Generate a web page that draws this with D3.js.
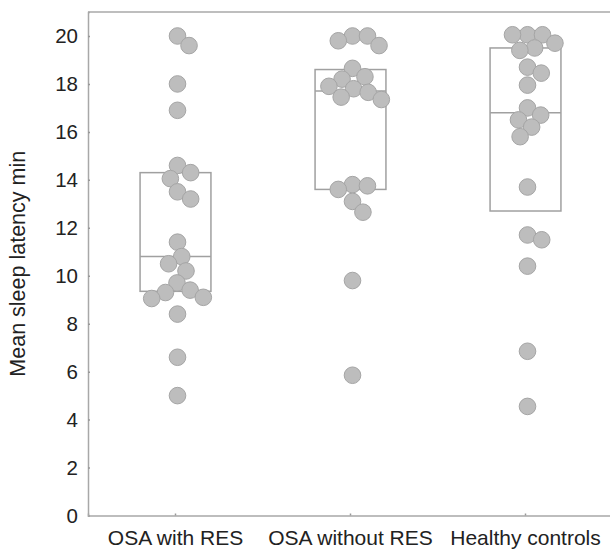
<!DOCTYPE html>
<html lang="en">
<head>
<meta charset="utf-8">
<title>Mean sleep latency</title>
<script src="https://d3js.org/d3.v7.min.js"></script>
<style>
  body { margin: 0; background: #fff; }
  text { font-family: "Liberation Sans", Arial, sans-serif; fill: #222; }
</style>
</head>
<body>
<script>
// data
var groups = ["OSA with RES", "OSA without RES", "Healthy controls"];

var osaWithRes = [20.0, 19.6, 18.0, 16.9, 14.6, 14.3, 14.05, 13.5, 13.2, 11.4, 10.8,
                  10.5, 10.2, 9.7, 9.4, 9.3, 9.1, 9.05, 8.4, 6.6, 5.0];
var osaWithoutRes = [20.0, 20.0, 19.8, 19.6, 18.65, 18.3, 18.2, 17.9, 17.8, 17.65,
                     17.45, 17.35, 13.8, 13.75, 13.6, 13.1, 12.65, 9.8, 5.85];
var healthy = [20.05, 20.05, 20.05, 19.7, 19.5, 19.4, 18.7, 18.45, 17.95, 17.0, 16.7,
               16.5, 16.2, 15.8, 13.7, 11.7, 11.5, 10.4, 6.85, 4.55];

// box: lower quartile, median, upper quartile
var q1 = [9.35, 13.6, 12.7];
var median = [10.8, 17.7, 16.8];
var q3 = [14.3, 18.6, 19.5];

var yTicks = [0, 2, 4, 6, 8, 10, 12, 14, 16, 18, 20];

var width = 610,
    height = 550;

var svg = d3.select("body").append("svg")
    .attr("width", width)
    .attr("height", height);

var x = d3.scaleBand()
    .domain(groups)
    .range([88, 613]);

var y = d3.scaleLinear()
    .domain([0, 21])
    .range([515.5, 12]);

var axisColor = "#a8a8a8";

// frame top line
svg.append("line")
    .attr("x1", 88).attr("x2", width)
    .attr("y1", y(21)).attr("y2", y(21))
    .attr("stroke", axisColor).attr("stroke-width", 1.5);

var gy = svg.append("g")
    .attr("transform", "translate(88,0)")
    .call(d3.axisLeft(y).tickValues(yTicks).tickSize(-2).tickPadding(10));

var gx = svg.append("g")
    .attr("transform", "translate(0," + y(0) + ")")
    .call(d3.axisBottom(x).tickSize(-2).tickPadding(15));

[gx, gy].forEach(function(g) {
  g.select(".domain").attr("stroke", axisColor).attr("stroke-width", 1.5);
  g.selectAll(".tick line").attr("stroke", "#999").attr("stroke-width", 1.5);
  g.selectAll(".tick text").attr("font-size", 20.5).attr("fill", "#222");
});
gx.selectAll(".tick text").attr("font-size", 21);

svg.append("text")
    .attr("transform", "translate(25," + ((y(0) + y(21)) / 2) + ") rotate(-90)")
    .attr("text-anchor", "middle")
    .attr("font-size", 21.5)
    .text("Mean sleep latency min");

// boxes
var boxW = x.bandwidth() * 0.405;
groups.forEach(function(g, i) {
  var cx = x(g) + x.bandwidth() / 2;
  svg.append("rect")
      .attr("x", cx - boxW / 2)
      .attr("y", y(q3[i]))
      .attr("width", boxW)
      .attr("height", y(q1[i]) - y(q3[i]))
      .attr("fill", "none")
      .attr("stroke", "#a0a0a0")
      .attr("stroke-width", 1.5);
  svg.append("line")
      .attr("x1", cx - boxW / 2).attr("x2", cx + boxW / 2)
      .attr("y1", y(median[i])).attr("y2", y(median[i]))
      .attr("stroke", "#a0a0a0")
      .attr("stroke-width", 1.5);
});

// simple beeswarm: each point goes to the free spot nearest the centre
var r = 8.3, sep = 15;
function swarm(values) {
  var placed = [];
  values.slice().sort(function(a, b) { return b - a; }).forEach(function(v) {
    var py = y(v);
    var cands = [0];
    placed.forEach(function(p) {
      var dy = Math.abs(p.y - py);
      if (dy < sep) {
        var dx = Math.sqrt(sep * sep - dy * dy);
        cands.push(p.x + dx, p.x - dx);
      }
    });
    cands.sort(function(a, b) { return Math.abs(a) - Math.abs(b); });
    var best = cands.find(function(c) {
      return placed.every(function(p) {
        var dx = p.x - c, dy = p.y - py;
        return dx * dx + dy * dy >= sep * sep - 0.01;
      });
    });
    placed.push({ x: best, y: py, v: v });
  });
  return placed;
}

[osaWithRes, osaWithoutRes, healthy].forEach(function(vals, i) {
  var cx = x(groups[i]) + x.bandwidth() / 2 + 2;
  svg.append("g")
    .selectAll("circle")
    .data(swarm(vals))
    .enter().append("circle")
      .attr("cx", function(d) { return cx + d.x; })
      .attr("cy", function(d) { return d.y; })
      .attr("r", r)
      .attr("fill", "#bdbdbd")
      .attr("stroke", "#a5a5a5")
      .attr("stroke-width", 1);
});
</script>
</body>
</html>
